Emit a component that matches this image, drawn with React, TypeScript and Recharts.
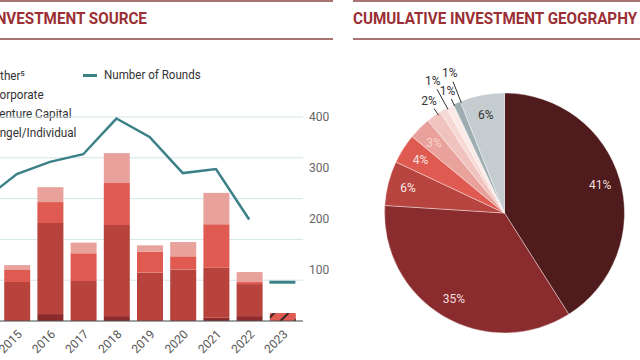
import { ComposedChart, Bar, Line, XAxis, YAxis, CartesianGrid, PieChart, Pie, Cell } from "recharts"

// investment source by year ($M), 2014 sits just off the left edge of the crop
const years = ["2014", "2015", "2016", "2017", "2018", "2019", "2020", "2021", "2022", "2023"]
const angel = [0, 0, 170, 0, 120, 0, 0, 80, 120, null]
const venture = [800, 955, 2230, 980, 2230, 1185, 1265, 1225, 785, null]
const corporate = [300, 310, 515, 680, 1030, 515, 320, 1065, 50, null]
const other = [100, 105, 365, 260, 735, 155, 350, 770, 245, null]
const partialYear = [null, null, null, null, null, null, null, null, null, 195]
const rounds = [237, 288, 312, 327, 397, 361, 290, 298, 199, null]
const roundsPartial = [null, null, null, null, null, null, null, null, null, 76]

const amountTicks = [0, 1000, 2000, 3000, 4000]
const roundTicks = [100, 200, 300, 400]

const sourceNames = ["Other⁵", "Corporate", "Venture Capital", "Angel/Individual"]
const roundsName = "Number of Rounds"

// cumulative geography shares, clockwise from 12 o'clock
const geoShares = [41, 35, 6, 4, 3, 2, 1, 1, 1, 6]
const geoColors = ["#4f1b1c", "#8a2b2d", "#b8443f", "#df5a50", "#e8a19b", "#f0c3be", "#f6d8d5", "#faeae8", "#9eadb1", "#c4cccf"]
const geoLabelColors = ["#f3dede", "#f3dede", "#f7e7e5", "#f7e7e5", "#fbd3cf", "#333", "#333", "#333", "#333", "#333"]

const sourceData = years.map((year, i) => ({
  year,
  angel: angel[i],
  venture: venture[i],
  corporate: corporate[i],
  other: other[i],
  partial: partialYear[i],
  rounds: rounds[i],
  roundsPartial: roundsPartial[i],
}))

const geoData = geoShares.map((share, i) => ({ name: `g${i}`, share }))

const TITLE = "#9a3035"
const RULE = "#a97474"
const TEAL = "#3b8187"
const RAD = Math.PI / 180

function PartialDash(props: any) {
  const { cx, cy, index } = props
  if (cy == null || cx == null) return <g key={`pd-${index}`} />
  return <line key={`pd-${index}`} x1={cx - 13} x2={cx + 13} y1={cy} y2={cy} stroke={TEAL} strokeWidth={3} />
}

function geoLabel(props: any) {
  const { cx, cy, midAngle, outerRadius, index, value } = props
  if (value <= 2) {
    // small slices get staggered outside labels with a leader line
    const a = (midAngle - 2) * RAD
    const cos = Math.cos(-a)
    const sin = Math.sin(-a)
    const far = index % 2 === 0
    const r1 = outerRadius - 2
    const r2 = outerRadius + (far ? 21 : 6)
    const rt = r2 + 9
    return (
      <g key={`gl-${index}`}>
        <line x1={cx + r1 * cos} y1={cy + r1 * sin} x2={cx + r2 * cos} y2={cy + r2 * sin} stroke="#333" strokeWidth={1} />
        <text x={cx + rt * cos} y={cy + rt * sin} textAnchor="middle" dominantBaseline="central" fill="#333" fontSize={12}>
          {value}%
        </text>
      </g>
    )
  }
  const cos = Math.cos(-midAngle * RAD)
  const sin = Math.sin(-midAngle * RAD)
  const r = outerRadius * 0.83
  return (
    <text key={`gl-${index}`} x={cx + r * cos} y={cy + r * sin} textAnchor="middle" dominantBaseline="central" fill={geoLabelColors[index]} fontSize={12}>
      {value}%
    </text>
  )
}

export default function App() {
  return (
    <div style={{ position: "absolute", left: 0, top: 0, width: 640, height: 360, overflow: "hidden", background: "#fff", fontFamily: "Roboto, sans-serif" }}>
      {/* header rules */}
      <div style={{ position: "absolute", left: 0, top: 0, width: 333, height: 2, background: RULE }} />
      <div style={{ position: "absolute", left: 0, top: 38, width: 333, height: 2, background: RULE }} />
      <div style={{ position: "absolute", left: 353, top: 0, width: 287, height: 2, background: RULE }} />
      <div style={{ position: "absolute", left: 353, top: 38, width: 287, height: 2, background: RULE }} />

      <div style={{ position: "absolute", right: 640 - 147, top: 9, whiteSpace: "nowrap", color: TITLE, fontWeight: 700, fontSize: 16, transform: "scaleX(0.95)", transformOrigin: "right center" }}>
        INVESTMENT SOURCE
      </div>
      <div style={{ position: "absolute", left: 353, top: 9, whiteSpace: "nowrap", color: TITLE, fontWeight: 700, fontSize: 16, transform: "scaleX(0.95)", transformOrigin: "left center" }}>
        CUMULATIVE INVESTMENT GEOGRAPHY
      </div>

      {/* legend */}
      {sourceNames.map((name, i) => (
        <div key={name} style={{ position: "absolute", left: -8, top: 68 + i * 19, whiteSpace: "nowrap", color: "#333", fontSize: 13, transform: "scaleX(0.9)", transformOrigin: "left center" }}>
          {name}
        </div>
      ))}
      <div style={{ position: "absolute", left: 83, top: 74, width: 14, height: 3, background: TEAL }} />
      <div style={{ position: "absolute", left: 104, top: 67, whiteSpace: "nowrap", color: "#333", fontSize: 13, transform: "scaleX(0.89)", transformOrigin: "left center" }}>
        {roundsName}
      </div>

      <div style={{ position: "absolute", left: -93, top: 0 }}>
        <ComposedChart width={433} height={360} data={sourceData} margin={{ top: 117, right: 0, bottom: 0, left: 0 }}>
          <defs>
            <pattern id="hatch" patternUnits="userSpaceOnUse" width={10} height={10} patternTransform="rotate(45)">
              <rect width={10} height={10} fill="#df5a50" />
              <rect width={2} height={10} fill="#3a2526" />
            </pattern>
          </defs>
          <CartesianGrid vertical={false} stroke="#d4e6e8" yAxisId="left" />
          <XAxis dataKey="year" height={39} padding={{ left: 0, right: 4 }} stroke="#555" tickLine={false} angle={-45} textAnchor="end" interval={0} tick={{ fill: "#555", fontSize: 12 }} />
          <YAxis yAxisId="left" width={60} domain={[0, 5000]} ticks={amountTicks} axisLine={false} tickLine={false} tick={{ fill: "#666", fontSize: 12 }} />
          <YAxis yAxisId="right" orientation="right" width={37} domain={[0, 400]} ticks={roundTicks} axisLine={false} tickLine={false} tickSize={4} tickMargin={2} tick={{ fill: "#666", fontSize: 12 }} />
          <Bar yAxisId="left" dataKey="angel" name={sourceNames[3]} stackId="s" fill="#8c2a2b" barSize={26} isAnimationActive={false} />
          <Bar yAxisId="left" dataKey="venture" name={sourceNames[2]} stackId="s" fill="#b8423c" barSize={26} isAnimationActive={false} />
          <Bar yAxisId="left" dataKey="corporate" name={sourceNames[1]} stackId="s" fill="#df5a50" barSize={26} isAnimationActive={false} />
          <Bar yAxisId="left" dataKey="other" name={sourceNames[0]} stackId="s" fill="#e8a19b" barSize={26} isAnimationActive={false} />
          <Bar yAxisId="left" dataKey="partial" stackId="s" fill="url(#hatch)" barSize={26} isAnimationActive={false} />
          <Line yAxisId="right" dataKey="rounds" name={roundsName} stroke={TEAL} strokeWidth={2.5} dot={false} isAnimationActive={false} />
          <Line yAxisId="right" dataKey="roundsPartial" stroke="none" dot={PartialDash} activeDot={false} isAnimationActive={false} />
        </ComposedChart>
      </div>

      <div style={{ position: "absolute", left: 353, top: 40 }}>
        <PieChart width={287} height={320} margin={{ top: 0, right: 0, bottom: 0, left: 0 }}>
          <Pie
            data={geoData}
            dataKey="share"
            cx={151.5}
            cy={173}
            outerRadius={120}
            startAngle={90}
            endAngle={-270}
            stroke="#fff"
            strokeWidth={0.4}
            label={geoLabel}
            labelLine={false}
            isAnimationActive={false}
          >
            {geoData.map((entry, index) => (
              <Cell key={`cell-${index}`} fill={geoColors[index]} />
            ))}
          </Pie>
        </PieChart>
      </div>
    </div>
  )
}
